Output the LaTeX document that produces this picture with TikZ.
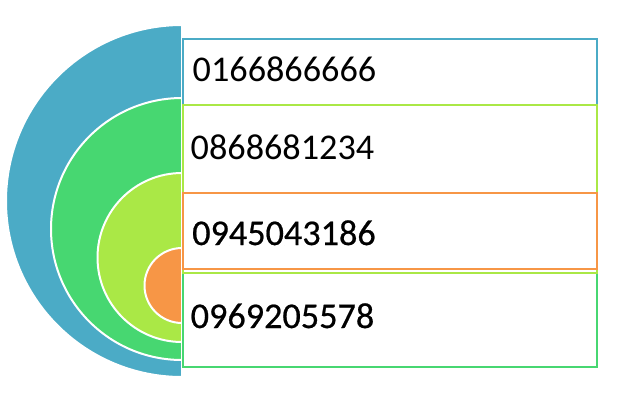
\documentclass[tikz,border=0pt]{standalone}
\usepackage{fontspec}
\setmainfont{Carlito}
\newfontfamily\heavyfont[FakeBold=0.6]{Carlito}
\definecolor{cblue}{RGB}{75,171,198}
\definecolor{cgreen}{RGB}{71,215,113}
\definecolor{clime}{RGB}{170,232,70}
\definecolor{corange}{RGB}{247,150,70}
\begin{document}
\begin{tikzpicture}[x=1pt,y=-1pt,
  ring/.style={line width=2pt, draw=white},
  box/.style={draw, fill=white, line width=2pt, minimum width=414pt, inner sep=0pt, anchor=north west},
  num/.style={font=\fontsize{36.2}{43}\selectfont, anchor=base west, inner sep=0pt, text=black},
  numh/.style={num, font=\heavyfont\fontsize{36.2}{43}\selectfont}]
\useasboundingbox (0,0) rectangle (628,400);
% half disks
\filldraw[ring, fill=cblue]   (182,25)    arc[start angle=270, end angle=90, radius=176] -- cycle;
\filldraw[ring, fill=cgreen]  (182,98)    arc[start angle=270, end angle=90, radius=131] -- cycle;
\filldraw[ring, fill=clime]   (182,173)   arc[start angle=270, end angle=90, radius=84.5] -- cycle;
\filldraw[ring, fill=corange] (182,248)   arc[start angle=270, end angle=90, radius=37.5] -- cycle;
% boxes
\node[box, draw=cgreen,  minimum height=94pt]  (b4) at (182,272) {};
\node[box, draw=cblue,   minimum height=66pt]  (b1) at (182,37.5) {};
\node[box, draw=clime,   minimum height=168pt] (b2) at (182,104) {};
\node[box, draw=corange, minimum height=76pt]  (b3) at (182,192) {};
% texts
\node[num]  (t1) at (192.5,81)  {0166866666};
\node[num]  (t2) at (190.5,159) {0868681234};
\node[numh] (t3) at (192,245)   {0945043186};
\node[numh] (t4) at (190.5,328) {0969205578};
\end{tikzpicture}
\end{document}
